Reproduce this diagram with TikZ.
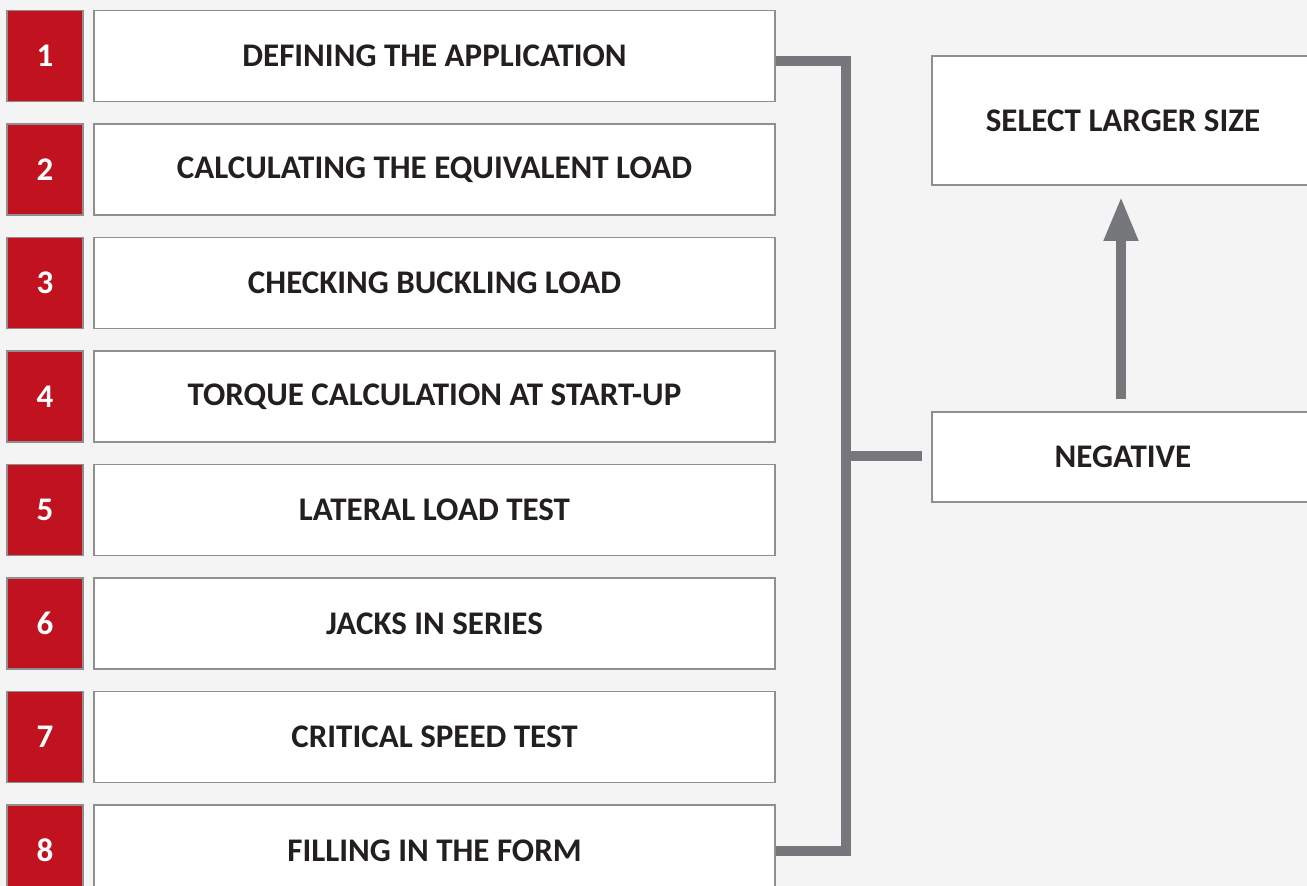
\documentclass[tikz,border=0pt]{standalone}
\usepackage{fontspec}
\setmainfont{Carlito}
\usepackage{xcolor}
\usepackage{tikz}
\usetikzlibrary{arrows.meta,positioning}
\definecolor{stepred}{RGB}{193,18,31}
\definecolor{boxgray}{RGB}{143,143,143}
\definecolor{bargray}{RGB}{118,119,122}
\definecolor{bggray}{RGB}{244,244,244}
\definecolor{txtdark}{RGB}{35,31,32}

\begin{document}
\begin{tikzpicture}[
  x=1pt, y=-1pt, font=\bfseries\fontsize{33}{38}\selectfont,
  num/.style={draw=boxgray, line width=1.5pt, fill=stepred, text=white, minimum width=76pt, minimum height=91pt, inner sep=0pt},
  stage/.style={draw=boxgray, line width=1.5pt, fill=white, text=txtdark, minimum width=681pt, minimum height=91pt, inner sep=0pt},
  side/.style={stage, minimum width=382pt},
  bar/.style={line width=10pt, draw=bargray},
  up/.style={bar, -{Triangle[width=32pt,length=44pt]}, fill=bargray}
]
  \fill[bggray] (0,0) rectangle (1307,886);
  \useasboundingbox (0,0) rectangle (1307,886);

  \foreach \i/\t in {
    1/{DEFINING THE APPLICATION},
    2/{CALCULATING THE EQUIVALENT LOAD},
    3/{CHECKING BUCKLING LOAD},
    4/{TORQUE CALCULATION AT START-UP},
    5/{LATERAL LOAD TEST},
    6/{JACKS IN SERIES},
    7/{CRITICAL SPEED TEST},
    8/{FILLING IN THE FORM}
  }{
    \node[num] (n\i) at (45,{56+113.5*(\i-1)}) {\i};
    \node[stage, right=9.5pt of n\i] (s\i) {\t};
  }

  \node[side, minimum height=129pt] (sel) at (1123,120.5) {SELECT LARGER SIZE};
  \node[side, minimum height=90pt]  (neg) at (1123,457) {NEGATIVE};

  % bracket joining all steps
  \coordinate (br) at (846,456);
  \draw[bar] ([yshift=-5pt]s1.east) -| (br) |- (s8.east);
  \draw[bar] (br) -- ([xshift=-9pt]br -| neg.west);
  \draw[up, shorten <=12pt, shorten >=11pt] ([xshift=-2pt]neg.north) -- ([xshift=-2pt]sel.south);
\end{tikzpicture}
\end{document}
